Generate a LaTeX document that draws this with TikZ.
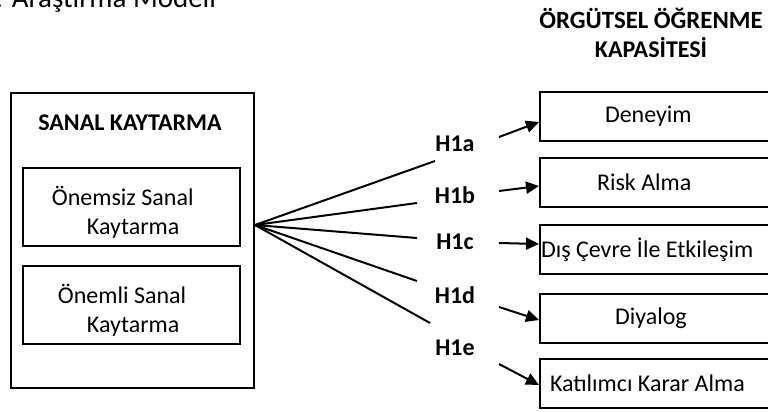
\documentclass[tikz,border=0pt]{standalone}
\usepackage{fontspec}
\setmainfont{Carlito}
\usepackage{tikz}
\usetikzlibrary{positioning}
\usetikzlibrary{arrows.meta}
\usetikzlibrary{calc}

\begin{document}
\begin{tikzpicture}[x=0.5pt, y=-0.5pt, font=\fontsize{12}{14.5}\selectfont,
    rbox/.style={draw, line width=1pt, minimum width=125pt, minimum height=24.5pt, inner sep=0pt, text width=125pt, align=flush left},
    ibox/.style={draw, minimum width=108.5pt, minimum height=39pt, inner sep=0pt, text width=108.5pt, align=flush left},
    hyp/.style={font=\fontsize{12}{14.5}\selectfont\bfseries},
    fan/.style={line width=1pt},
    arr/.style={line width=1pt, -{Triangle[length=6.5pt, width=6pt]}}]

    \useasboundingbox (0,0) rectangle (768,412);

    %title
    \node[anchor=base west, inner sep=0pt, font=\fontsize{14.5}{17}\selectfont] (title) at (-5,7) {: Araştırma Modeli};

    %left side
    \node[draw, line width=0.75pt, minimum width=121.5pt, minimum height=147.5pt] (sk) at (132.5,240.5) {};
    \node[hyp] (skt) at (130,123) {SANAL KAYTARMA};
    \node[ibox, line width=1.2pt] (ons) at (131.5,207) {\rule{0pt}{14.5pt}\hspace*{14.5pt}Önemsiz Sanal\\\hspace*{32pt}Kaytarma};
    \node[ibox, line width=0.6pt] (onm) at (131.5,305) {\rule{0pt}{14.5pt}\hspace*{17.5pt}Önemli Sanal\\\hspace*{32pt}Kaytarma};

    %right side
    \node[hyp, align=center] (ok) at (651,32.5) {\fontsize{12.4}{14.5}\selectfont ÖRGÜTSEL ÖĞRENME\\KAPASİTESİ};

    \foreach \i/\y/\sh/\txt in {1/116.5/32.5/Deneyim, 2/182.5/28.5/Risk Alma, 3/249.5/0.5/Dış Çevre İle Etkileşim, 4/318/37.5/Diyalog, 5/383.5/5/Katılımcı Karar Alma}{
        \node[rbox] (r\i) at (665,\y) {\hspace*{\sh pt}\txt};
    }

    %hypotheses
    \coordinate (f0) at (255,225);
    \foreach \i/\ex/\ey/\l/\ly/\ay/\dy in {1/435/161/a/144/137/5.5, 2/417/203/b/195/191/3.5, 3/417/238/c/242/243/-5.5, 4/417/281/d/295/307/2, 5/430/323/e/348/364/1.5}{
        \coordinate (e\i) at (\ex,\ey);
        \node[hyp] (h\i) at (455,\ly) {H1\l};
        \coordinate (a\i) at (499,\ay);
        \draw[fan] (f0) -- (e\i);
        \draw[arr] (a\i) -- ($(r\i.west)+(0,\dy)$);
    }

\end{tikzpicture}
\end{document}
